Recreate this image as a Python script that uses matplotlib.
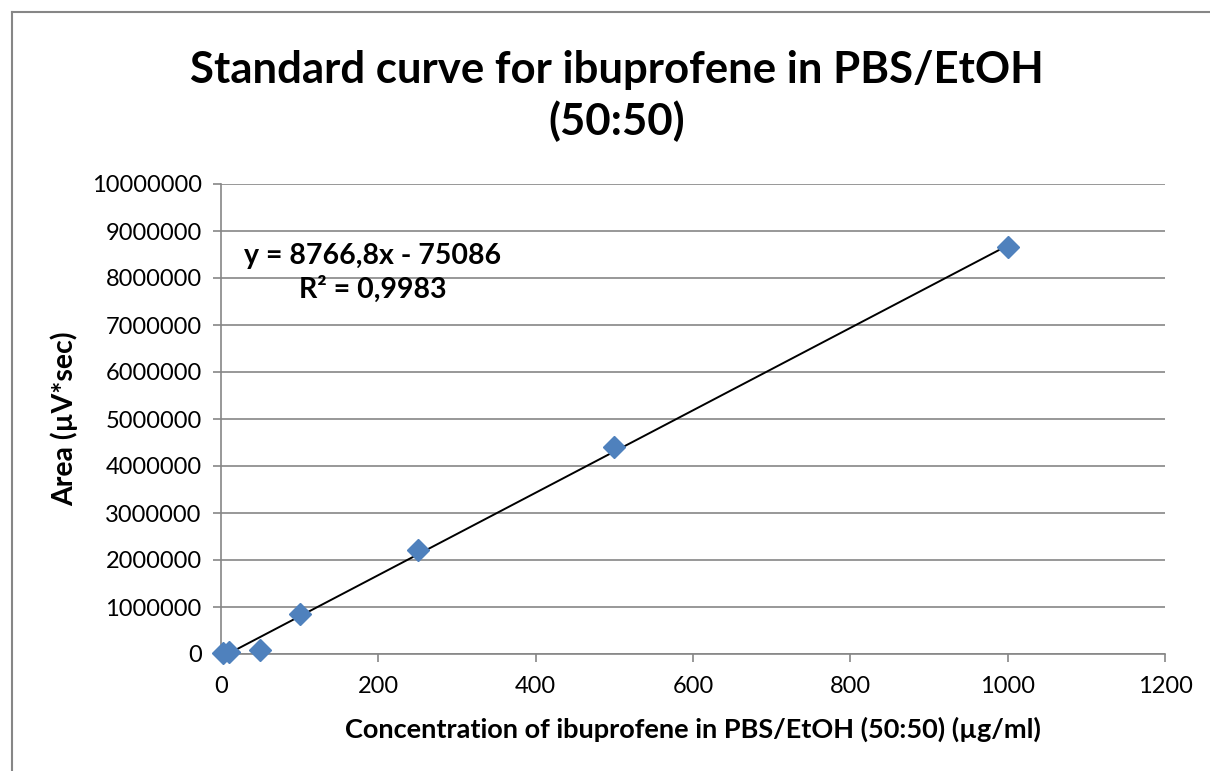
import matplotlib
matplotlib.use("Agg")
import matplotlib.pyplot as plt
import numpy as np
from matplotlib.lines import Line2D

# standard curve data
conc = [2, 10, 50, 100, 250, 500, 1000]
area = [20000, 40000, 85000, 850000, 2210000, 4400000, 8670000]
slope = 8766.8
intercept = -75086

plt.rcParams['font.family'] = ['Lato', 'DejaVu Sans']

fig = plt.figure(figsize=(12.1, 7.71), dpi=100)
ax = fig.add_axes([221/1210, 117/771, 944/1210, 470/771])

gray = "#868686"
ax.set_xlim(0, 1200)
ax.set_ylim(0, 10000000)
ax.set_xticks(np.arange(0, 1201, 200))
ax.set_yticks(np.arange(0, 10000001, 1000000))
ax.yaxis.set_major_formatter(matplotlib.ticker.FuncFormatter(lambda v, p: "%d" % v))
ax.grid(axis="y", color=gray, lw=1.2)
ax.set_axisbelow(True)
for s in ["top", "right"]:
    ax.spines[s].set_visible(False)
for s in ["left", "bottom"]:
    ax.spines[s].set_color(gray)
    ax.spines[s].set_linewidth(1.2)
ax.tick_params(axis="both", colors=gray, labelcolor="black", labelsize=17, length=6, width=1.2)
ax.tick_params(axis="x", pad=10)
ax.tick_params(axis="y", pad=8)

# trendline over data range (clipped at y=0 like Excel)
xs = np.array([min(conc), max(conc)])
ax.plot(xs, slope * xs + intercept, color="black", lw=1.4, zorder=3)
ax.plot(conc, area, linestyle="none", marker="D", color="#4F81BD", markersize=11,
        clip_on=False, zorder=4)

ax.text(193, 8100000, "y = 8766,8x - 75086\nR² = 0,9983", ha="center", va="center",
        fontsize=20.5, fontweight="bold", linespacing=1.3)

ax.set_xlabel("Concentration of ibuprofene in PBS/EtOH (50:50) (µg/ml)", fontsize=19.5,
              fontweight="bold", labelpad=14)
ax.set_ylabel("Area (µV*sec)", fontsize=20.5, fontweight="bold", labelpad=10)

fig.text(617/1210, 1 - 96/771, "Standard curve for ibuprofene in PBS/EtOH\n(50:50)",
         ha="center", va="center", fontsize=31.5, fontweight="bold", linespacing=1.3)

# chart frame (top and left edges visible)
fig.add_artist(Line2D([12/1210, 1], [1 - 12/771, 1 - 12/771], color=gray, lw=1.5,
                      transform=fig.transFigure))
fig.add_artist(Line2D([12/1210, 12/1210], [0, 1 - 12/771], color=gray, lw=1.5,
                      transform=fig.transFigure))

fig.savefig("out.png", dpi=100)
